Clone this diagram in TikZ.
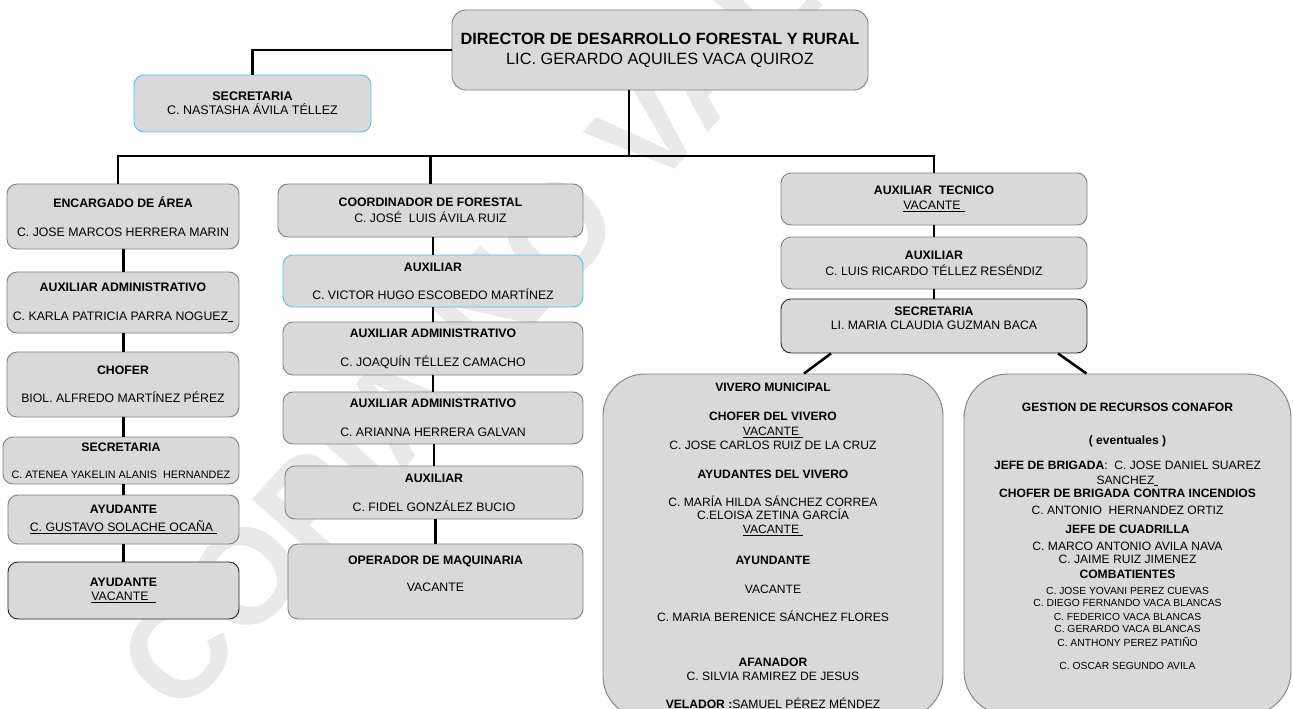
\documentclass[tikz,border=0pt]{standalone}
\usepackage{fontspec}
\setmainfont{Liberation Sans}

\definecolor{cajagris}{HTML}{D9D9D9}
\definecolor{bordegris}{HTML}{7F7F7F}
\definecolor{bordeazul}{HTML}{4FC3EE}
\definecolor{marcagris}{HTML}{E9E9E9}

\newcommand{\chica}{\fontsize{10.3}{14}\selectfont}

\tikzset{
  puesto/.style={draw=bordegris, fill=cajagris, rounded corners=10pt, line width=0.9pt,
    align=center, inner sep=2pt, font=\fontsize{12.3}{14}\selectfont},
  azul/.style={draw=bordeazul},
  oscuro/.style={draw=black!85},
  grupo/.style={puesto, rounded corners=44pt},
  enlace/.style={line width=2.5pt},
}

\begin{document}
\begin{tikzpicture}[x=1pt,y=-1pt]
    \useasboundingbox (0,0) rectangle (1293,709);
    \clip (0,0) rectangle (1293,709);

    % Watermark behind everything
    \node[rotate=48, text=marcagris, font=\fontsize{135}{140}\selectfont\bfseries] (marca) at (546,243) {COPIA NO VALIDA};

    % Director and his secretary
    \node[puesto, rounded corners=14pt, minimum width=416, minimum height=80, font=\fontsize{16.3}{20}\selectfont] (director) at (660,50)
        {\textbf{DIRECTOR DE DESARROLLO FORESTAL Y RURAL}\\LIC. GERARDO AQUILES VACA QUIROZ};
    \node[puesto, azul, minimum width=237, minimum height=57, font=\fontsize{12.5}{14}\selectfont] (secre0) at (252.5,103.5)
        {\textbf{SECRETARIA}\\C. NASTASHA ÁVILA TÉLLEZ};

    % Left column
    \node[puesto, minimum width=232, minimum height=65] (encargado) at (123,216.5)
        {\textbf{ENCARGADO DE ÁREA}\\[15pt]C. JOSE MARCOS HERRERA MARIN};
    \node[puesto, minimum width=232, minimum height=61] (auxadm1) at (123,302.5)
        {\textbf{AUXILIAR ADMINISTRATIVO}\\[15pt]C. KARLA PATRICIA PARRA NOGUEZ\underline{\hspace{5pt}}};
    \node[puesto, minimum width=232, minimum height=65] (chofer) at (123,384.5)
        {\textbf{CHOFER}\\[14pt]BIOL. ALFREDO MARTÍNEZ PÉREZ};
    \node[puesto, minimum width=236, minimum height=47] (secre1) at (121,460.5)
        {\textbf{SECRETARIA}\\[13pt]{\fontsize{10.8}{14}\selectfont C. ATENEA YAKELIN ALANIS\ \ HERNANDEZ}};
    \node[puesto, minimum width=231, minimum height=49] (ayud1) at (123.5,519.5)
        {\textbf{AYUDANTE}\\[4pt]\underline{C. GUSTAVO SOLACHE OCAÑA\hspace{4pt}}};
    \node[puesto, oscuro, minimum width=231, minimum height=57] (ayud2) at (123.5,590.5)
        {\textbf{AYUDANTE}\\\underline{VACANTE\hspace{7pt}}};

    % Middle column
    \node[puesto, minimum width=305, minimum height=53] (coord) at (430.5,210.5)
        {\textbf{COORDINADOR DE FORESTAL}\\[2pt]C. JOSÉ\ \ LUIS ÁVILA RUIZ};
    \node[puesto, azul, minimum width=300, minimum height=52] (aux1) at (433,281)
        {\textbf{AUXILIAR}\\[14pt]C. VICTOR HUGO ESCOBEDO MARTÍNEZ};
    \node[puesto, minimum width=300, minimum height=53] (auxadm2) at (433,348.5)
        {\textbf{AUXILIAR ADMINISTRATIVO}\\[15pt]C. JOAQUÍN TÉLLEZ CAMACHO};
    \node[puesto, minimum width=300, minimum height=52] (auxadm3) at (433,418)
        {\textbf{AUXILIAR ADMINISTRATIVO}\\[15pt]C. ARIANNA HERRERA GALVAN};
    \node[puesto, minimum width=298, minimum height=53] (aux2) at (434,492.5)
        {\textbf{AUXILIAR}\\[15pt]C. FIDEL GONZÁLEZ BUCIO};
    \node[puesto, minimum width=295, minimum height=75] (operador) at (435.5,581.5)
        {\textbf{OPERADOR DE MAQUINARIA}\\[13pt]VACANTE\\[2pt]\mbox{}};

    % Right column
    \node[puesto, minimum width=306, minimum height=52] (auxtec) at (934,199)
        {\textbf{AUXILIAR\ \ TECNICO}\\[1pt]\underline{VACANTE\hspace{4pt}}};
    \node[puesto, minimum width=306, minimum height=52] (aux3) at (934,263)
        {\textbf{AUXILIAR}\\[2pt]C. LUIS RICARDO TÉLLEZ RESÉNDIZ};
    \node[puesto, oscuro, minimum width=306, minimum height=54] (secre2) at (934,326)
        {\textbf{SECRETARIA}\\LI. MARIA CLAUDIA GUZMAN BACA\\[2pt]\mbox{}};

    % Big group boxes
    \node[grupo, rounded corners=42pt, minimum width=340, minimum height=344, font=\fontsize{12.1}{14}\selectfont] (vivero) at (773,546)
        {\textbf{VIVERO MUNICIPAL}\\[15pt]
         \textbf{CHOFER DEL VIVERO}\\[1pt]
         \underline{VACANTE\hspace{4pt}}\\
         C. JOSE CARLOS RUIZ DE LA CRUZ\\[15pt]
         \textbf{AYUDANTES DEL VIVERO}\\[14pt]
         C. MARÍA HILDA SÁNCHEZ CORREA\\[-1pt]
         C.ELOISA ZETINA GARCÍA\\
         \underline{VACANTE\hspace{4pt}}\\[17pt]
         \textbf{AYUNDANTE}\\[15pt]
         VACANTE\\[14pt]
         C. MARIA BERENICE SÁNCHEZ FLORES\\[31pt]
         \textbf{AFANADOR}\\
         C. SILVIA RAMIREZ DE JESUS\\[14pt]
         \textbf{VELADOR :}SAMUEL PÉREZ MÉNDEZ};
    \node[grupo, minimum width=327, minimum height=341, font=\fontsize{12.1}{14}\selectfont] (conafor) at (1127.5,544.5)
        {\textbf{GESTION DE RECURSOS CONAFOR}\\[19pt]
         \textbf{( eventuales )}\\[11pt]
         \textbf{JEFE DE BRIGADA}:\ \ C. JOSE DANIEL SUAREZ\\[1pt]
         SANCHEZ\underline{\hspace{4pt}}\\[-1pt]
         \textbf{CHOFER DE BRIGADA CONTRA INCENDIOS}\\[3pt]
         C. ANTONIO\ \ HERNANDEZ ORTIZ\\[5pt]
         \textbf{JEFE DE CUADRILLA}\\[3pt]
         C. MARCO ANTONIO AVILA NAVA\\[-1pt]
         C. JAIME RUIZ JIMENEZ\\[1pt]
         \textbf{COMBATIENTES}\\[2pt]
         {\chica C. JOSE YOVANI PEREZ CUEVAS}\\[-2pt]
         {\chica C. DIEGO FERNANDO VACA BLANCAS}\\
         {\chica C. FEDERICO VACA BLANCAS}\\[-2pt]
         {\chica C. GERARDO VACA BLANCAS}\\
         {\chica C. ANTHONY PEREZ PATIÑO}\\[9pt]
         {\chica C. OSCAR SEGUNDO AVILA}\\[3pt]\mbox{}};

    % Connectors from the director
    \coordinate (bus) at (629,156);
    \draw[enlace] (director.west) -| (secre0.north);
    \draw[enlace] (director.south -| bus) -- (bus);
    \draw[enlace] ([xshift=-5pt]encargado.north) |- (bus) -| (auxtec.north);
    \draw[enlace] (coord.north) -- (coord.north |- bus);

    % Connectors down each column
    \foreach \a/\b in {encargado/auxadm1, auxadm1/chofer, chofer/secre1, secre1/ayud1, ayud1/ayud2}
        \draw[enlace] (\a.south -| ayud1.north) -- (ayud1.north |- \b.north);
    \foreach \a/\b in {coord/aux1, aux1/auxadm2, auxadm2/auxadm3, auxadm3/aux2, aux2/operador}
        \draw[enlace] (\b.north |- \a.south) -- (\b.north);
    \foreach \a/\b in {auxtec/aux3, aux3/secre2}
        \draw[enlace] (\a.south) -- (\b.north);

    % Secretary to the two groups
    \draw[enlace] ([xshift=-103pt]secre2.south) -- ([xshift=31pt]vivero.north);
    \draw[enlace] ([xshift=124pt]secre2.south) -- ([xshift=-41pt]conafor.north);

\end{tikzpicture}
\end{document}
